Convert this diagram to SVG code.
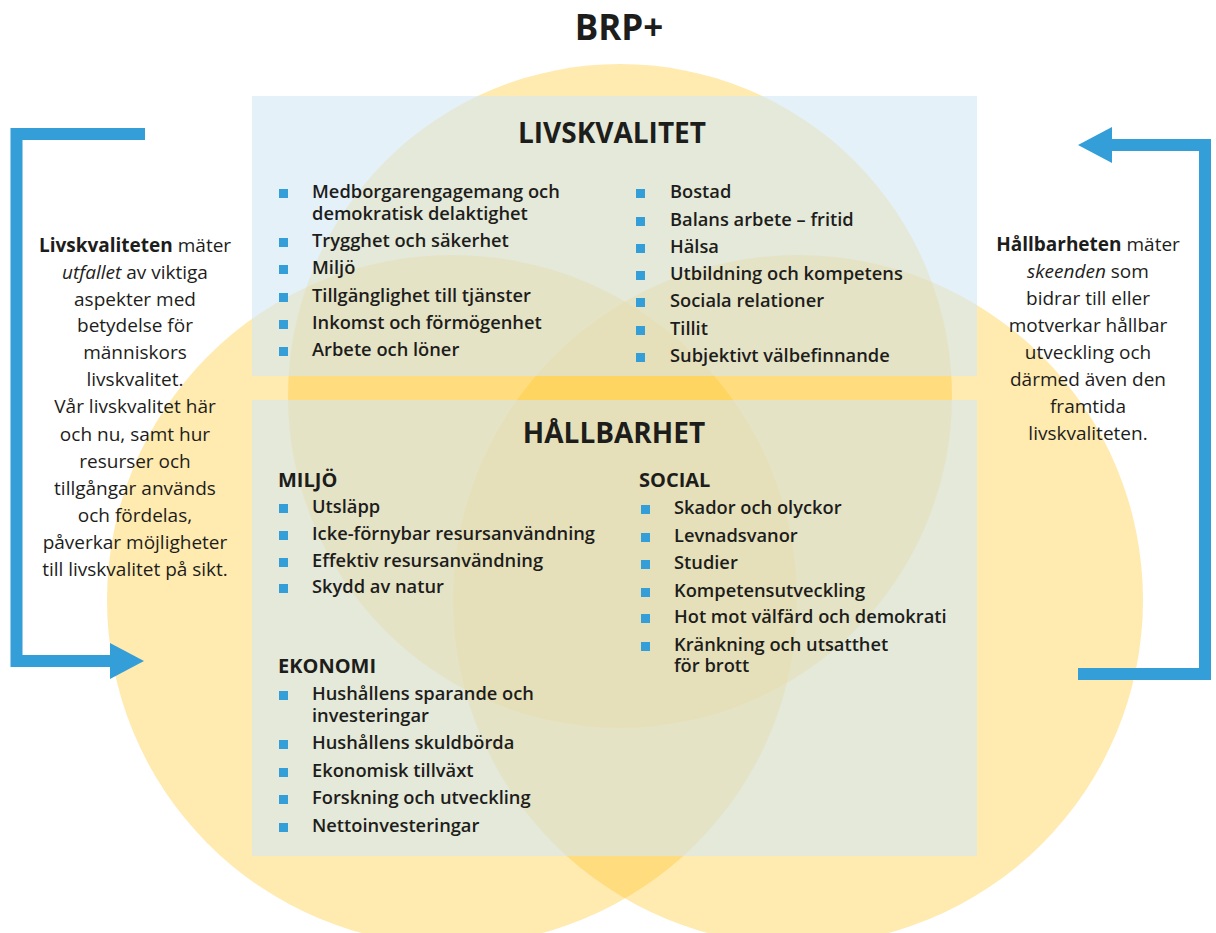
<svg xmlns="http://www.w3.org/2000/svg" width="1216" height="933" viewBox="0 0 1216 933">
<defs>
<style>
.c{fill:#FFC933;fill-opacity:0.39}
.box{fill:#D4E7F5;fill-opacity:0.6}
.t{font-family:"Open Sans","Liberation Sans",sans-serif;fill:#1d1d1b}
.it{font-size:18.3px;font-weight:600}
.p{font-size:19px;font-weight:400;text-anchor:middle}
.h2{font-size:28px;font-weight:700;text-anchor:middle}
.h3{font-size:20px;font-weight:700}
.b{fill:#349ED8}
.ar{fill:none;stroke:#349ED8;stroke-width:12;stroke-linejoin:miter}
</style>
<marker id="ah" markerUnits="userSpaceOnUse" markerWidth="34" markerHeight="36" refX="0" refY="18" orient="auto">
<path d="M0,0 L34,18 L0,36 Z" fill="#349ED8"/>
</marker>
</defs>
<rect width="1216" height="933" fill="#ffffff"/>

<g id="venn">
<circle class="c" cx="620" cy="396" r="332"/>
<circle class="c" cx="452" cy="600" r="345"/>
<circle class="c" cx="798" cy="600" r="345"/>
</g>

<g id="title">
<text class="t" x="619" y="40" font-size="35" font-weight="700" text-anchor="middle">BRP+</text>
</g>

<g id="livskvalitet">
<rect class="box" x="252" y="96" width="725" height="280"/>
<text class="t h2" x="612" y="143">LIVSKVALITET</text>
<rect class="b" x="279" y="189" width="9" height="9"/>
<text class="t it"><tspan x="312" y="198">Medborgarengagemang och</tspan><tspan x="312" dy="22">demokratisk delaktighet</tspan></text>
<rect class="b" x="279" y="238" width="9" height="9"/>
<text class="t it" x="312" y="247">Trygghet och säkerhet</text>
<rect class="b" x="279" y="265" width="9" height="9"/>
<text class="t it" x="312" y="274">Miljö</text>
<rect class="b" x="279" y="293" width="9" height="9"/>
<text class="t it" x="312" y="302">Tillgänglighet till tjänster</text>
<rect class="b" x="279" y="320" width="9" height="9"/>
<text class="t it" x="312" y="329">Inkomst och förmögenhet</text>
<rect class="b" x="279" y="347" width="9" height="9"/>
<text class="t it" x="312" y="356">Arbete och löner</text>

<rect class="b" x="636" y="189" width="9" height="9"/>
<text class="t it" x="670" y="198">Bostad</text>
<rect class="b" x="636" y="217" width="9" height="9"/>
<text class="t it" x="670" y="226">Balans arbete – fritid</text>
<rect class="b" x="636" y="244" width="9" height="9"/>
<text class="t it" x="670" y="253">Hälsa</text>
<rect class="b" x="636" y="271" width="9" height="9"/>
<text class="t it" x="670" y="280">Utbildning och kompetens</text>
<rect class="b" x="636" y="298" width="9" height="9"/>
<text class="t it" x="670" y="307">Sociala relationer</text>
<rect class="b" x="636" y="326" width="9" height="9"/>
<text class="t it" x="670" y="335">Tillit</text>
<rect class="b" x="636" y="353" width="9" height="9"/>
<text class="t it" x="670" y="362">Subjektivt välbefinnande</text>
</g>

<g id="hallbarhet">
<rect class="box" x="252" y="400" width="725" height="456"/>
<text class="t h2" x="614" y="443">HÅLLBARHET</text>

<text class="t h3" x="278" y="487">MILJÖ</text>
<rect class="b" x="279" y="504" width="9" height="9"/>
<text class="t it" x="312" y="513">Utsläpp</text>
<rect class="b" x="279" y="531" width="9" height="9"/>
<text class="t it" x="312" y="540">Icke-förnybar resursanvändning</text>
<rect class="b" x="279" y="558" width="9" height="9"/>
<text class="t it" x="312" y="567">Effektiv resursanvändning</text>
<rect class="b" x="279" y="584" width="9" height="9"/>
<text class="t it" x="312" y="593">Skydd av natur</text>

<text class="t h3" x="278" y="673">EKONOMI</text>
<rect class="b" x="279" y="691" width="9" height="9"/>
<text class="t it"><tspan x="312" y="700">Hushållens sparande och</tspan><tspan x="312" dy="22">investeringar</tspan></text>
<rect class="b" x="279" y="740" width="9" height="9"/>
<text class="t it" x="312" y="749">Hushållens skuldbörda</text>
<rect class="b" x="279" y="768" width="9" height="9"/>
<text class="t it" x="312" y="777">Ekonomisk tillväxt</text>
<rect class="b" x="279" y="795" width="9" height="9"/>
<text class="t it" x="312" y="804">Forskning och utveckling</text>
<rect class="b" x="279" y="823" width="9" height="9"/>
<text class="t it" x="312" y="832">Nettoinvesteringar</text>

<text class="t h3" x="639" y="487">SOCIAL</text>
<rect class="b" x="641" y="505" width="9" height="9"/>
<text class="t it" x="674" y="514">Skador och olyckor</text>
<rect class="b" x="641" y="533" width="9" height="9"/>
<text class="t it" x="674" y="542">Levnadsvanor</text>
<rect class="b" x="641" y="560" width="9" height="9"/>
<text class="t it" x="674" y="569">Studier</text>
<rect class="b" x="641" y="588" width="9" height="9"/>
<text class="t it" x="674" y="597">Kompetensutveckling</text>
<rect class="b" x="641" y="614" width="9" height="9"/>
<text class="t it" x="674" y="623">Hot mot välfärd och demokrati</text>
<rect class="b" x="641" y="642" width="9" height="9"/>
<text class="t it"><tspan x="674" y="651">Kränkning och utsatthet</tspan><tspan x="674" dy="21">för brott</tspan></text>
</g>

<g id="left-note">
<text class="t p" x="135" y="252"><tspan font-weight="700">Livskvaliteten</tspan> mäter</text>
<text class="t p" x="135" y="279"><tspan font-style="italic">utfallet</tspan> av viktiga</text>
<text class="t p" x="135" y="306">aspekter med</text>
<text class="t p" x="135" y="332">betydelse för</text>
<text class="t p" x="135" y="359">människors</text>
<text class="t p" x="135" y="386">livskvalitet.</text>
<text class="t p" x="135" y="413">Vår livskvalitet här</text>
<text class="t p" x="135" y="441">och nu, samt hur</text>
<text class="t p" x="135" y="468">resurser och</text>
<text class="t p" x="135" y="495">tillgångar används</text>
<text class="t p" x="135" y="522">och fördelas,</text>
<text class="t p" x="135" y="549">påverkar möjligheter</text>
<text class="t p" x="135" y="576">till livskvalitet på sikt.</text>
</g>

<g id="right-note">
<text class="t p" x="1088" y="251"><tspan font-weight="700">Hållbarheten</tspan> mäter</text>
<text class="t p" x="1088" y="278"><tspan font-style="italic">skeenden</tspan> som</text>
<text class="t p" x="1088" y="305">bidrar till eller</text>
<text class="t p" x="1088" y="332">motverkar hållbar</text>
<text class="t p" x="1088" y="359">utveckling och</text>
<text class="t p" x="1088" y="386">därmed även den</text>
<text class="t p" x="1088" y="413">framtida</text>
<text class="t p" x="1088" y="440">livskvaliteten.</text>
</g>

<g id="connectors">
<path class="ar" d="M145,134 H16.5 V661 H110" marker-end="url(#ah)"/>
<path class="ar" d="M1078,674 H1205 V145 H1112" marker-end="url(#ah)"/>
</g>
</svg>
